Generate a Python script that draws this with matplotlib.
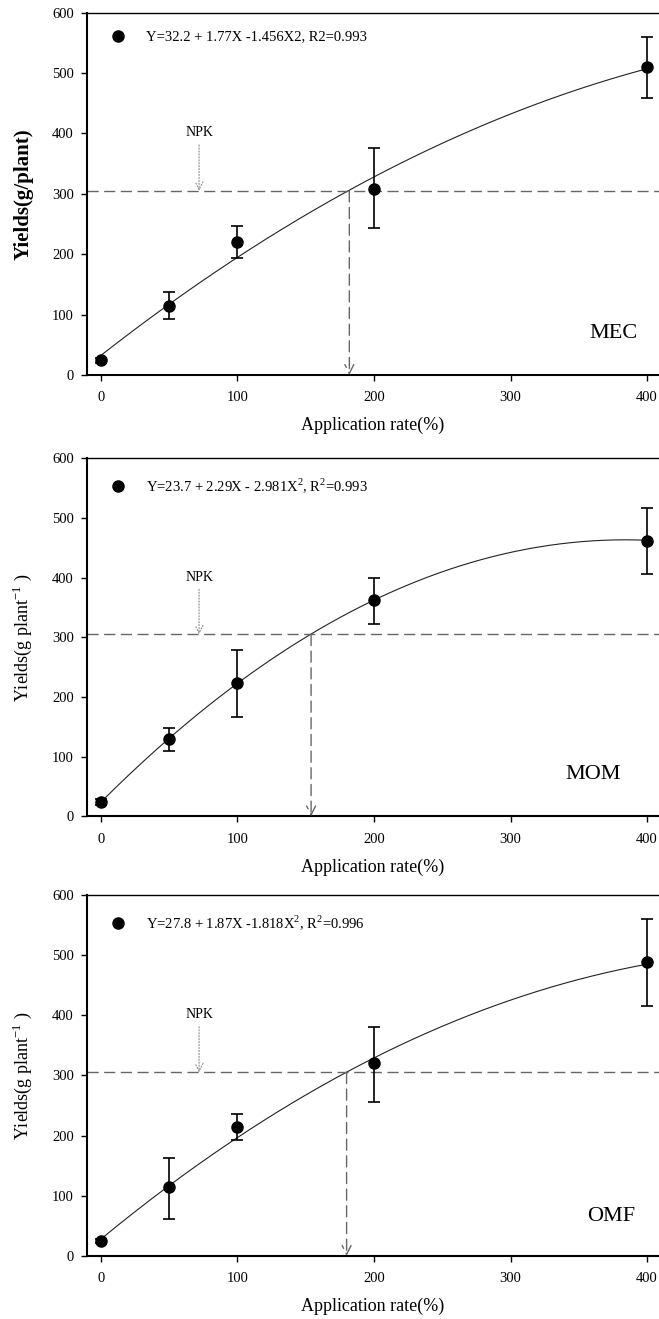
import numpy as np
import matplotlib
matplotlib.use("Agg")
import matplotlib.pyplot as plt

plt.rcParams['font.family'] = ['Liberation Serif', 'DejaVu Serif']
plt.rcParams['mathtext.fontset'] = 'custom'
plt.rcParams['mathtext.rm'] = 'Liberation Serif'
plt.rcParams['mathtext.bf'] = 'Liberation Serif:bold'

# dane
rate = [0, 50, 100, 200, 400]
xticks = [0, 100, 200, 300, 400]
yticks = [0, 100, 200, 300, 400, 500, 600]

mec_y = [24, 115, 220, 308, 510]
mec_lo = [20, 92, 193, 243, 458]
mec_hi = [28, 137, 246, 376, 560]

mom_y = [25, 130, 224, 362, 462]
mom_lo = [20, 110, 167, 323, 407]
mom_hi = [30, 148, 279, 400, 516]

omf_y = [25, 114, 215, 320, 488]
omf_lo = [21, 62, 193, 256, 415]
omf_hi = [29, 163, 236, 380, 560]

# wspolczynniki z rownan na wykresie (X^2 w tysiacach)
mec_coef = [32.2, 1.77, -1.456]
mom_coef = [23.7, 2.29, -2.981]
omf_coef = [27.8, 1.87, -1.818]

npk = 305
cross_x = [182, 154, 180]

names = ['MEC', 'MOM', 'OMF']
name_x = [393, 381, 391]
name_y = [69, 71, 66]
eqs = ['Y=32.2 + 1.77X -1.456X2, R2=0.993',
       r'Y=23.7 + 2.29X - 2.981X$^2$, R$^2$=0.993',
       r'Y=27.8 + 1.87X -1.818X$^2$, R$^2$=0.996']
ylabels = ['Yields(g/plant)',
           r'Yields(g plant$^{-1}$ )',
           r'Yields(g plant$^{-1}$ )']
ylabel_size = [15, 13, 13]
ylabel_weight = ['bold', 'normal', 'normal']
legend_y = [561, 554, 554]

fig = plt.figure(figsize=(6.59, 13.19), dpi=100)
pozycje = [[0.1316, 0.7157, 0.8684, 0.2747],
           [0.1316, 0.3810, 0.8684, 0.2715],
           [0.1316, 0.0478, 0.8684, 0.2737]]

dane = [(mec_y, mec_lo, mec_hi, mec_coef),
        (mom_y, mom_lo, mom_hi, mom_coef),
        (omf_y, omf_lo, omf_hi, omf_coef)]

for i, (yy, lo, hi, coef) in enumerate(dane):
    ax = fig.add_axes(pozycje[i])
    yy = np.array(yy)
    err = [yy - np.array(lo), np.array(hi) - yy]

    xs = np.linspace(0, 400, 200)
    fit = coef[0] + coef[1] * xs + coef[2] / 1000 * xs**2
    ax.plot(xs, fit, color='#222222', lw=0.8)

    ax.errorbar(rate, yy, yerr=err, fmt='o', color='black', ms=8,
                capsize=4.5, elinewidth=1.2, capthick=1.2, zorder=3)

    # linia NPK
    ax.axhline(npk, color='#666666', lw=1.0, ls=(0, (8, 4)))
    ax.annotate('', xy=(cross_x[i], 0), xytext=(cross_x[i], npk),
                arrowprops=dict(arrowstyle='->', color='#666666', lw=1.0,
                                linestyle=(0, (8, 4)), mutation_scale=16,
                                shrinkA=0, shrinkB=0))
    ax.annotate('NPK', xy=(72, npk), xytext=(72, 390), ha='center',
                va='bottom', fontsize=10,
                arrowprops=dict(arrowstyle='->', color='#888888', lw=0.8,
                                linestyle=':', mutation_scale=14,
                                shrinkA=2, shrinkB=0))

    # legenda
    ax.plot([12.5], [legend_y[i]], 'o', color='black', ms=8)
    ax.text(33.5, legend_y[i], eqs[i], fontsize=10.5, va='center', ha='left')

    ax.text(name_x[i], name_y[i], names[i], fontsize=16, ha='right', va='center')

    ax.set_xlim(-10.25, 408.7)
    ax.set_ylim(0, 600)
    ax.set_xticks(xticks)
    ax.set_yticks(yticks)
    ax.tick_params(labelsize=10.5, length=4.3, width=1)
    ax.tick_params(axis='x', pad=7.5)
    ax.tick_params(axis='y', pad=5)
    ax.spines['right'].set_visible(False)
    ax.spines['left'].set_linewidth(1.5)
    ax.spines['bottom'].set_linewidth(1.5)
    ax.spines['top'].set_linewidth(1.0)
    ax.set_xlabel('Application rate(%)', fontsize=13, labelpad=9)
    ax.set_ylabel(ylabels[i], fontsize=ylabel_size[i],
                  fontweight=ylabel_weight[i])
    ax.yaxis.set_label_coords(-0.092, 0.5)

fig.savefig('out.png', dpi=100)
